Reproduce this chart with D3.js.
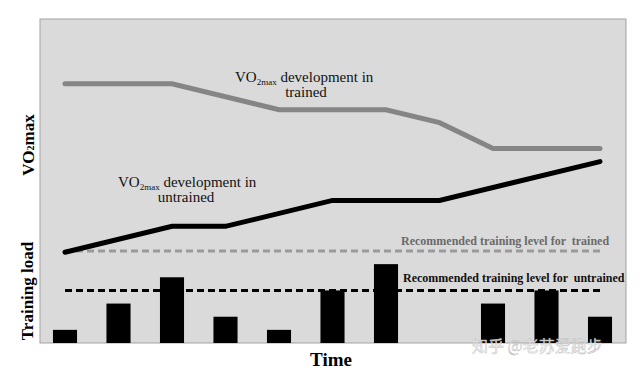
<!doctype html>
<html lang="en">
<head>
<meta charset="utf-8">
<style>
  body, html { margin:0; padding:0; background:#fff; overflow:hidden; }
  svg text { font-family: "Liberation Serif", "DejaVu Serif", serif; }
  .pre { white-space: pre; }
</style>
</head>
<body>
<div id="chart"></div>
<script src="https://d3js.org/d3.v7.min.js"></script>
<script>
// time steps (arbitrary units)
const timeSteps = [0, 1, 2, 3, 4, 5, 6, 7, 8, 9, 10];
// training load per step (0 = no bar)
const trainingLoad = [1, 3, 5, 2, 1, 4, 6, 0, 3, 4, 2];
// VO2max curves, [step, value]
const trainedVO2 = [[0, 80], [2, 80], [4, 72], [6, 72], [7, 68], [8, 60], [10, 60]];
const untrainedVO2 = [[0, 28], [2, 36], [3, 36], [5, 44], [7, 44], [10, 56]];
// recommended training levels
const levelTrained = 7;
const levelUntrained = 4;

const width = 640, height = 373;
const panel = {left: 40, top: 19, right: 626, bottom: 343};

const svg = d3.select("#chart").append("svg")
  .attr("width", width)
  .attr("height", height);

const x = d3.scaleLinear().domain([0, 10]).range([65, 600]);
const yVO2 = d3.scaleLinear().domain([0, 100]).range([panel.bottom, panel.top]);
const yLoad = d3.scaleLinear().domain([0, 7]).range([panel.bottom, 251]);

const step = x(1) - x(0);
const barW = step * 0.45;

svg.append("rect")
  .attr("x", panel.left).attr("y", panel.top)
  .attr("width", panel.right - panel.left)
  .attr("height", panel.bottom - panel.top)
  .attr("fill", "#dadada")
  .attr("stroke", "#a3a3a3")
  .attr("stroke-width", 1);

// bars
svg.append("g").selectAll("rect")
  .data(timeSteps.filter((d, i) => trainingLoad[i] > 0))
  .join("rect")
  .attr("x", d => x(d) - barW / 2)
  .attr("y", d => yLoad(trainingLoad[d]))
  .attr("width", barW)
  .attr("height", d => yLoad(0) - yLoad(trainingLoad[d]))
  .attr("fill", "#000");

// recommended levels
svg.append("line")
  .attr("x1", x(0)).attr("x2", x(10))
  .attr("y1", yLoad(levelTrained)).attr("y2", yLoad(levelTrained))
  .attr("stroke", "#9a9a9a").attr("stroke-width", 3)
  .attr("stroke-dasharray", "7 4");

svg.append("line")
  .attr("x1", x(0)).attr("x2", x(10))
  .attr("y1", yLoad(levelUntrained)).attr("y2", yLoad(levelUntrained))
  .attr("stroke", "#000").attr("stroke-width", 3)
  .attr("stroke-dasharray", "7 4");

// VO2max lines
const line = d3.line().x(d => x(d[0])).y(d => yVO2(d[1]));

svg.append("path")
  .attr("d", line(trainedVO2))
  .attr("fill", "none")
  .attr("stroke", "#858585")
  .attr("stroke-width", 5)
  .attr("stroke-linecap", "round");

svg.append("path")
  .attr("d", line(untrainedVO2))
  .attr("fill", "none")
  .attr("stroke", "#000")
  .attr("stroke-width", 5)
  .attr("stroke-linecap", "round");

// line labels
const vo2Label = (x0, y0, cx, second) => {
  const t = svg.append("text")
    .attr("x", x0).attr("y", y0)
    .attr("font-size", 15).attr("fill", "#111");
  t.append("tspan").text("VO");
  t.append("tspan").attr("font-size", 9).attr("dy", 3).text("2max");
  t.append("tspan").attr("dy", -3).text(" development in");
  svg.append("text")
    .attr("x", cx).attr("y", y0 + 15)
    .attr("text-anchor", "middle")
    .attr("font-size", 15).attr("fill", "#111")
    .text(second);
};
vo2Label(235, 82, 306, "trained");
vo2Label(118, 187, 186, "untrained");

svg.append("text")
  .attr("class", "pre")
  .attr("x", 401).attr("y", 245)
  .attr("font-size", 12).attr("font-weight", "bold")
  .attr("fill", "#6a6a6a")
  .text("Recommended training level for  trained");

svg.append("text")
  .attr("class", "pre")
  .attr("x", 403).attr("y", 282)
  .attr("font-size", 12).attr("font-weight", "bold")
  .attr("fill", "#111")
  .text("Recommended training level for  untrained");

// axis titles
const vt = svg.append("text")
  .attr("transform", "translate(34,145) rotate(-90)")
  .attr("text-anchor", "middle")
  .attr("font-size", 17).attr("font-weight", "bold");
vt.append("tspan").text("VO");
vt.append("tspan").attr("font-size", 10).text("2");
vt.append("tspan").text("max");

svg.append("text")
  .attr("transform", "translate(33,291) rotate(-90)")
  .attr("text-anchor", "middle")
  .attr("font-size", 17).attr("font-weight", "bold")
  .text("Training load");

svg.append("text")
  .attr("x", 331).attr("y", 366)
  .attr("text-anchor", "middle")
  .attr("font-size", 19).attr("font-weight", "bold")
  .text("Time");

// watermark
svg.append("text")
  .attr("x", 472).attr("y", 352)
  .style("font-family", "'Noto Sans CJK SC', sans-serif")
  .attr("font-size", 16)
  .attr("fill", "#f4f4f4")
  .attr("fill-opacity", 0.85)
  .attr("stroke", "#b8b8b8")
  .attr("stroke-width", 0.4)
  .text("知乎 @老苏爱跑步");
</script>
</body>
</html>
